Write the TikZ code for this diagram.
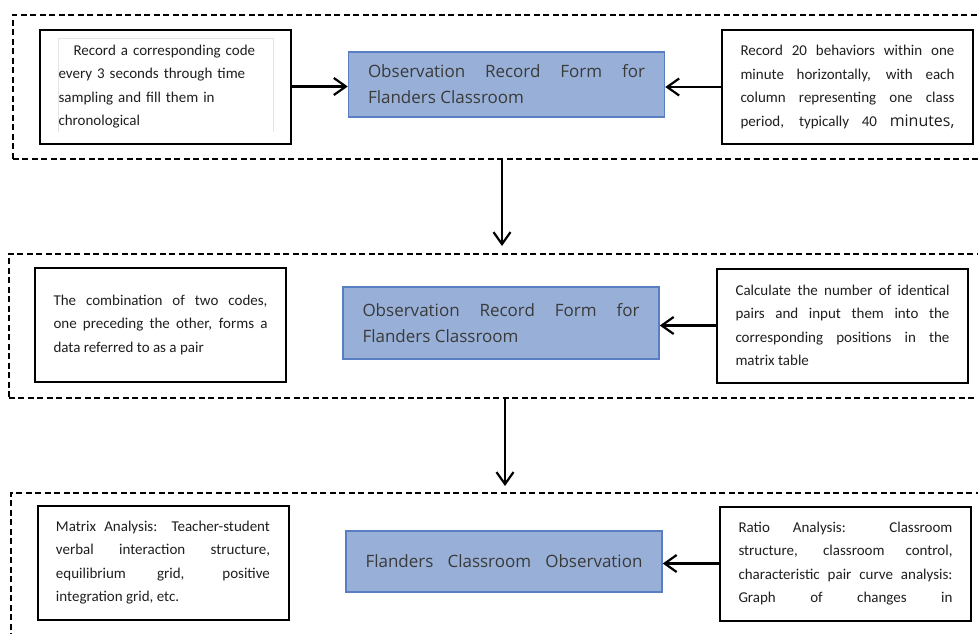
\documentclass[tikz,border=0pt]{standalone}
\usepackage{fontspec}
\setmainfont{Carlito}
\newfontfamily\bluefont{Open Sans}
\usetikzlibrary{arrows.meta}
\definecolor{bfill}{HTML}{98B0D8}
\definecolor{bdraw}{HTML}{5A7EC2}
\definecolor{btext}{HTML}{3A3A3A}
\definecolor{faint}{HTML}{E4E4E4}
\newcommand\infofont{\fontsize{15}{23.5}\selectfont\tolerance=9999\relax}
\newcommand\bluetext{\bluefont\fontsize{17}{26}\selectfont\tolerance=9999\relax}
\newcommand\fullline[1]{\makebox[\hsize][s]{#1}}
\tikzset{
  infobox/.style={draw=black, line width=2pt, fill=white, minimum width=251pt,
    minimum height=114pt, text width=214pt, align=justify, inner sep=0pt,
    font=\infofont, text=black!88},
  bluebox/.style={draw=bdraw, line width=1.5pt, fill=bfill, text=btext,
    text width=277pt, align=justify, inner sep=0pt, minimum width=316pt,
    font=\bluetext},
  group/.style={draw=black, line width=1.6pt, dash pattern=on 6pt off 3.5pt,
    anchor=north west, inner sep=0pt},
  arr/.style={-{Straight Barb[length=12pt,width=17pt]}, line width=2.2pt},
}
\begin{document}
\begin{tikzpicture}[x=1pt,y=-1pt]
\useasboundingbox (0,0) rectangle (978,633);
% dashed groups
\node[group, minimum width=980pt, minimum height=144pt] (g1) at (12,14) {};
\node[group, minimum width=985pt, minimum height=144pt] (g2) at (8,253) {};
\node[group, minimum width=985pt, minimum height=160pt] (g3) at (10,492) {};
% row 1
\node[infobox, align=left] (tl) at (165.5,86.5) {\hspace*{15pt}Record a corresponding code\\every 3 seconds through time\\sampling and fill them in\\chronological};
\draw[faint, line width=0.8pt] (58,132) -- (58,38) -- (273,38) -- (273,132);
\node[bluebox, minimum height=65pt] (b1) at (506.5,84.5) {Observation Record Form for\linebreak Flanders Classroom};
\node[infobox] (tr) at (847.5,87) {Record 20 behaviors within one\linebreak minute horizontally, with each\linebreak column representing one class\linebreak \fullline{period, typically 40 {\bluefont\fontsize{16}{23.5}\selectfont minutes,}}};
% row 2
\node[infobox] (ml) at (160.5,324.5) {The combination of two codes,\linebreak one preceding the other, forms a\linebreak data referred to as a pair};
\node[bluebox, minimum height=72pt] (b2) at (501,323) {\baselineskip=28pt Observation Record Form for\linebreak Flanders Classroom};
\node[infobox] (mr) at (842.5,325.5) {Calculate the number of identical\linebreak pairs and input them into the\linebreak corresponding positions in the\linebreak matrix table};
% row 3
\node[infobox] (bl) at (163,562.5) {Matrix Analysis: Teacher-student\linebreak verbal interaction structure,\linebreak equilibrium grid, positive\linebreak integration grid, etc.};
\node[bluebox, minimum height=61pt] (b3) at (504,561.5) {\fullline{Flanders Classroom Observation}};
\node[infobox] (br) at (845.5,563.5) {Ratio Analysis: Classroom\linebreak structure, classroom control,\linebreak characteristic pair curve analysis:\linebreak \fullline{Graph of changes in}};
% connectors
\draw[arr] (tl.east) -- (tl.east -| b1.west);
\draw[arr] (tr.west) -- (tr.west -| b1.east);
\draw[arr] (mr.west) -- (mr.west -| b2.east);
\draw[arr] (br.west) -- (br.west -| b3.east);
\coordinate (d1s) at (502,158);
\coordinate (d1e) at (502,246);
\coordinate (d2s) at (505,397);
\coordinate (d2e) at (505,486);
\draw[arr] (d1s) -- (d1e);
\draw[arr] (d2s) -- (d2e);
\end{tikzpicture}
\end{document}
